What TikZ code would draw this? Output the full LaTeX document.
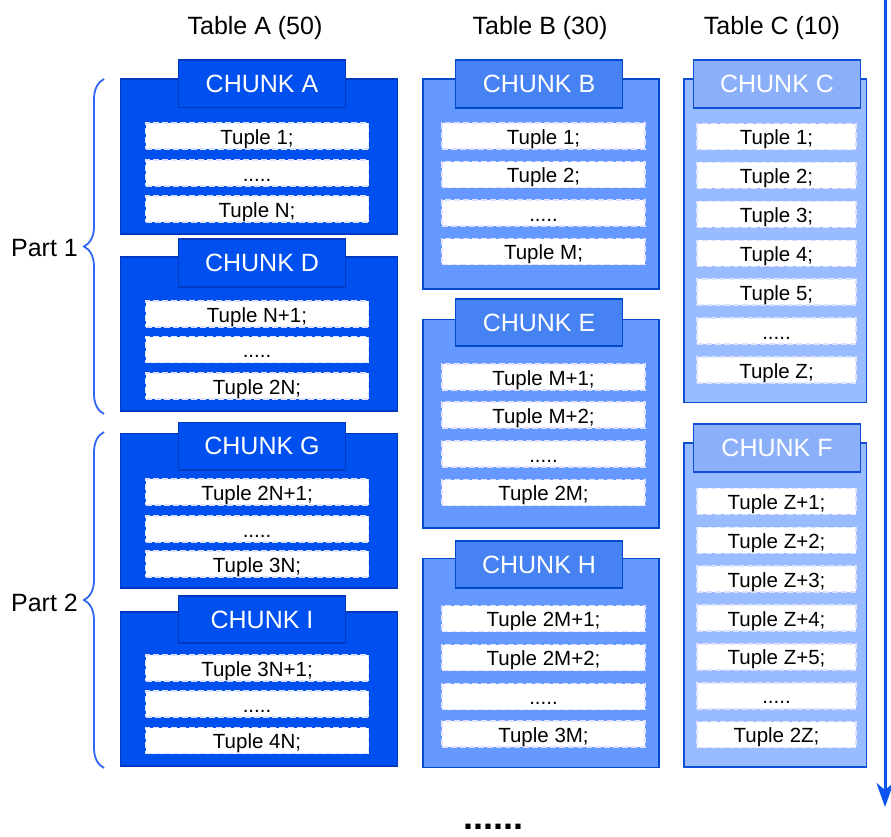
\documentclass[tikz,border=0pt]{standalone}
\usepackage{fontspec}
\setmainfont{Liberation Sans}
\usetikzlibrary{arrows.meta,decorations.pathreplacing}
\newcommand{\myfivedots}{.....}
\definecolor{fillA}{HTML}{0050EF}
\definecolor{fillB}{HTML}{6699FF}
\definecolor{fillC}{HTML}{99BBFF}
\definecolor{tabB}{HTML}{4782F2}
\definecolor{tabC}{HTML}{8CAFFA}
\definecolor{edgeA}{HTML}{0038C0}
\definecolor{edgeB}{HTML}{0048CC}
\definecolor{edgeC}{HTML}{1050D8}
\definecolor{braceblue}{HTML}{2F66F5}
\definecolor{arrowblue}{HTML}{0A55F0}
\tikzset{
  chunkbody/.style={rectangle, inner sep=0pt, line width=1.6pt},
  bodyA/.style={chunkbody, fill=fillA, draw=edgeA},
  bodyB/.style={chunkbody, fill=fillB, draw=edgeB},
  bodyC/.style={chunkbody, fill=fillC, draw=edgeC},
  tabbase/.style={rectangle, inner sep=0pt, line width=1.6pt, text=white,
    font=\fontsize{25}{30}\selectfont, minimum width=167pt, minimum height=47.5pt},
  tabA/.style={tabbase, fill=fillA, draw=edgeA},
  tabB/.style={tabbase, fill=tabB, draw=edgeB},
  tabC/.style={tabbase, fill=tabC, draw=edgeC},
  tuplebox/.style={rectangle, inner sep=0pt, fill=white, draw=white!88!blue,
    dash pattern=on 6pt off 3pt, line width=1.4pt, minimum height=26pt,
    text height=16pt, text depth=0pt,
    font=\fontsize{20.5}{24}\selectfont, text=black},
  tupA/.style={tuplebox, minimum width=223pt},
  tupB/.style={tuplebox, minimum width=203pt},
  tupC/.style={tuplebox, minimum width=159pt},
  header/.style={font=\fontsize{25}{30}\selectfont, text=black, inner sep=0pt,
    text height=18pt, text depth=0pt},
  partlabel/.style={font=\fontsize{25}{30}\selectfont, text=black, inner sep=0pt,
    text height=18pt, text depth=0pt},
  bracedeco/.style={draw=braceblue, line width=1.8pt,
    decorate, decoration={brace, amplitude=20pt}},
  flowarrow/.style={draw=arrowblue, line width=3pt,
    -{Stealth[length=24pt, width=17pt, inset=7pt]}},
}
\begin{document}
\begin{tikzpicture}[x=1pt, y=-1pt]
\useasboundingbox (0,0) rectangle (891,836);

% headers
\node[header] (hA) at (255,25) {Table A (50)};
\node[header] (hB) at (540,25) {Table B (30)};
\node[header] (hC) at (772,25) {Table C (10)};

% ---------- Table A ----------
\node[bodyA, minimum width=277pt, minimum height=155pt] (bA) at (259,156.5) {};
\node[tabA] (tA) at (262,83.8) {CHUNK A};
\foreach \y/\t [count=\i] in {136/Tuple 1;, 173/\myfivedots, 209/Tuple N;}
  \node[tupA] (a\i) at (257,\y) {\t};

\node[bodyA, minimum width=277pt, minimum height=154pt] (bD) at (259,333.7) {};
\node[tabA] (tD) at (262,263) {CHUNK D};
\foreach \y/\t [count=\i] in {314/Tuple N+1;, 349.5/\myfivedots, 386/Tuple 2N;}
  \node[tupA] (d\i) at (257,\y) {\t};

\node[bodyA, minimum width=277pt, minimum height=154.4pt] (bG) at (259,510.5) {};
\node[tabA] (tG) at (262,446.3) {CHUNK G};
\foreach \y/\t [count=\i] in {492/Tuple 2N+1;, 529/\myfivedots, 564/Tuple 3N;}
  \node[tupA] (g\i) at (257,\y) {\t};

\node[bodyA, minimum width=277pt, minimum height=154pt] (bI) at (259,688.7) {};
\node[tabA] (tI) at (262,619.5) {CHUNK I};
\foreach \y/\t [count=\i] in {668/Tuple 3N+1;, 704/\myfivedots, 740.5/Tuple 4N;}
  \node[tupA] (i\i) at (257,\y) {\t};

% ---------- Table B ----------
\node[bodyB, minimum width=236pt, minimum height=210pt] (bB) at (541,184) {};
\node[tabB] (tB) at (539,84) {CHUNK B};
\foreach \y/\t [count=\i] in {136/Tuple 1;, 174.5/Tuple 2;, 213/\myfivedots, 251.5/Tuple M;}
  \node[tupB] (b\i) at (543.5,\y) {\t};

\node[bodyB, minimum width=236pt, minimum height=208.4pt] (bE) at (541,423.5) {};
\node[tabB] (tE) at (539,322.5) {CHUNK E};
\foreach \y/\t [count=\i] in {377/Tuple M+1;, 415/Tuple M+2;, 454/\myfivedots, 492.5/Tuple 2M;}
  \node[tupB] (e\i) at (543.5,\y) {\t};

\node[bodyB, minimum width=236pt, minimum height=209pt] (bH) at (541,662.8) {};
\node[tabB] (tH) at (539,564.5) {CHUNK H};
\foreach \y/\t [count=\i] in {618.5/Tuple 2M+1;, 657.5/Tuple 2M+2;, 696.7/\myfivedots, 734/Tuple 3M;}
  \node[tupB] (h\i) at (543.5,\y) {\t};

% ---------- Table C ----------
\node[bodyC, minimum width=182.7pt, minimum height=323.7pt] (bC) at (775.3,240.8) {};
\node[tabC] (tC) at (777,84) {CHUNK C};
\foreach \y/\t [count=\i] in {136.5/Tuple 1;, 175.4/Tuple 2;, 214.3/Tuple 3;, 253.2/Tuple 4;, 292.1/Tuple 5;, 331/\myfivedots, 370/Tuple Z;}
  \node[tupC] (c\i) at (776.5,\y) {\t};

\node[bodyC, minimum width=182.7pt, minimum height=324pt] (bF) at (775.3,605) {};
\node[tabC] (tF) at (777,448) {CHUNK F};
\foreach \y/\t [count=\i] in {501.3/Tuple Z+1;, 540.2/Tuple Z+2;, 579.1/Tuple Z+3;, 618/Tuple Z+4;, 656.9/Tuple Z+5;, 695.8/\myfivedots, 734.7/Tuple 2Z;}
  \node[tupC] (f\i) at (776.5,\y) {\t};

% ---------- braces & part labels ----------
\coordinate (p1bot) at (104,414);
\coordinate (p1top) at (104,79);
\coordinate (p2bot) at (104,768);
\coordinate (p2top) at (104,432);
\draw[bracedeco] (p1bot) -- (p1top);
\draw[bracedeco] (p2bot) -- (p2top);
\node[partlabel] (part1) at (44.5,247) {Part 1};
\node[partlabel] (part2) at (44.5,602) {Part 2};

% ---------- arrow ----------
\coordinate (arrS) at (885,0);
\coordinate (arrE) at (885,807);
\draw[flowarrow] (arrS) -- (arrE);

% ---------- trailing dots ----------
\node[font=\fontsize{36}{40}\selectfont\bfseries, inner sep=0pt] (more) at (493,827) {......};
\end{tikzpicture}
\end{document}
